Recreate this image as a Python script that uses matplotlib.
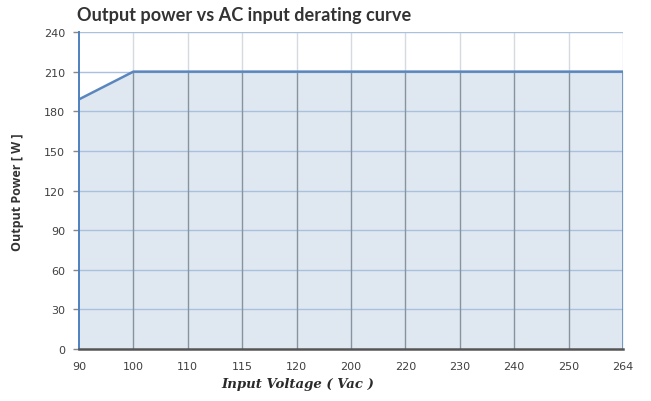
import matplotlib
matplotlib.use("Agg")
import matplotlib.pyplot as plt
import numpy as np

categories = ["90", "100", "110", "115", "120", "200", "220", "230", "240", "250", "264"]
power = [189, 210, 210, 210, 210, 210, 210, 210, 210, 210, 210]
yticks = [0, 30, 60, 90, 120, 150, 180, 210, 240]

W, H = 651, 402
fig = plt.figure(figsize=(W / 100, H / 100), dpi=100)
L, R, T, B = 79, 623, 33, 350
ax = fig.add_axes([L / W, 1 - B / H, (R - L) / W, (B - T) / H])

x = np.arange(len(categories))
ax.set_xlim(x[0], x[-1])
ax.set_ylim(0, 240)

# area
ax.fill_between(x, power, 0, color="#dfe8f0", zorder=2, lw=0)

# vertical grid: light above curve, darker inside area
for xi, pv in zip(x[1:], power[1:]):
    ax.vlines(xi, pv, 240, color="#d6dadf", lw=1.0, zorder=1)
    ax.vlines(xi, 0, pv, color="#8793a0", lw=1.0, zorder=3)
for yv in yticks[1:]:
    ax.hlines(yv, x[0], x[-1], color="#a9c1de", lw=1.0, zorder=2.5)

ax.plot(x, power, color="#5b86bd", lw=1.8, zorder=4, solid_capstyle="butt")
ax.vlines(x[-1], 0, power[-1], color="#5b86bd", lw=1.8, zorder=4)

for s in ["top", "right"]:
    ax.spines[s].set_visible(False)
ax.spines["left"].set_color("#4f7fbf")
ax.spines["left"].set_linewidth(1.4)
ax.spines["bottom"].set_color("#555555")
ax.spines["bottom"].set_linewidth(1.8)
ax.spines["bottom"].set_zorder(5)
ax.spines["left"].set_zorder(5)

ax.set_xticks(x)
ax.set_xticklabels(categories)
ax.set_yticks(yticks)
ax.tick_params(axis="both", colors="#888888", labelcolor="#404040", labelsize=8, length=4, width=1)
ax.tick_params(axis="x", length=0, pad=9)
ax.tick_params(axis="y", pad=6)
for lab in ax.get_xticklabels() + ax.get_yticklabels():
    lab.set_family("DejaVu Sans")

fig.text(77 / W, 1 - 15 / H, "Output power vs AC input derating curve", fontsize=13.1,
         fontweight="bold", color="#333333", ha="left", va="center", family="Lato")
fig.text(18 / W, 1 - 192 / H, "Output Power [ W ]", rotation=90, fontsize=9,
         fontweight="bold", color="#333333", ha="center", va="center", family="Open Sans")
fig.text(298 / W, 1 - 385 / H, "Input Voltage ( Vac )", fontsize=9.5, fontweight="bold",
         fontstyle="italic", color="#2a2a2a", ha="center", va="center", family="DejaVu Serif")

fig.savefig("out.png", dpi=100)
